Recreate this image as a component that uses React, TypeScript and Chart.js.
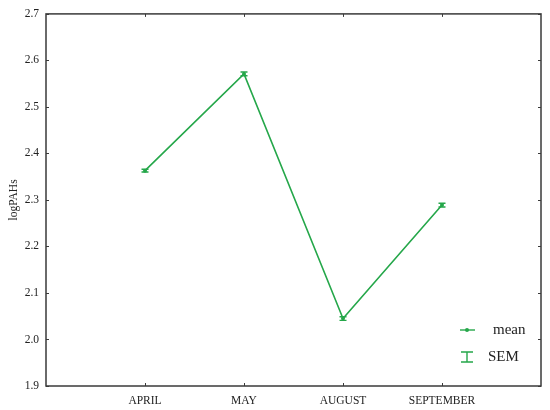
import React, { useEffect, useRef } from "react";
import { Chart, registerables } from "chart.js";

Chart.register(...registerables);

const categories = ["APRIL", "MAY", "AUGUST", "SEPTEMBER"];
const meanValues = [2.363, 2.571, 2.045, 2.289];
const semValues = [0.003, 0.004, 0.004, 0.004];
const yTickMin = 1.9;
const yTickMax = 2.7;
const yStep = 0.1;

const GREEN = "#25a74a";
const AXIS = "#3a3a3a";
const FONT = "'Liberation Serif', 'DejaVu Serif', serif";

const framePlugin = {
  id: "frame",
  afterDraw(chart: any) {
    const ctx = chart.ctx;
    const { left, right, top, bottom } = chart.chartArea;
    const xs = chart.scales.x;
    const ys = chart.scales.y;
    ctx.save();
    // error bars
    ctx.strokeStyle = GREEN;
    ctx.lineWidth = 1.4;
    meanValues.forEach((m, i) => {
      const px = xs.getPixelForValue(i + 1);
      const yHi = ys.getPixelForValue(m + semValues[i]);
      const yLo = ys.getPixelForValue(m - semValues[i]);
      ctx.beginPath();
      ctx.moveTo(px, yHi);
      ctx.lineTo(px, yLo);
      ctx.moveTo(px - 3.5, yHi);
      ctx.lineTo(px + 3.5, yHi);
      ctx.moveTo(px - 3.5, yLo);
      ctx.lineTo(px + 3.5, yLo);
      ctx.stroke();
    });
    // box
    ctx.strokeStyle = AXIS;
    ctx.lineWidth = 1.5;
    ctx.strokeRect(left, top, right - left, bottom - top);
    // inward ticks
    ctx.lineWidth = 1;
    const tl = 3;
    ctx.beginPath();
    xs.ticks.forEach((t: any) => {
      const px = Math.round(xs.getPixelForValue(t.value)) + 0.5;
      ctx.moveTo(px, bottom);
      ctx.lineTo(px, bottom - tl);
      ctx.moveTo(px, top);
      ctx.lineTo(px, top + tl);
    });
    ys.ticks.forEach((t: any) => {
      const py = Math.round(ys.getPixelForValue(t.value)) + 0.5;
      ctx.moveTo(left, py);
      ctx.lineTo(left + tl, py);
      ctx.moveTo(right, py);
      ctx.lineTo(right - tl, py);
    });
    ctx.stroke();
    // y title
    ctx.fillStyle = "#222";
    ctx.font = `11.5px ${FONT}`;
    ctx.translate(14, (top + bottom) / 2);
    ctx.rotate(-Math.PI / 2);
    ctx.textAlign = "center";
    ctx.textBaseline = "middle";
    ctx.fillText("logPAHs", 0, 0);
    ctx.setTransform(1, 0, 0, 1, 0, 0);
    // legend
    const lx = right - 74;
    const ly1 = bottom - 56;
    const ly2 = bottom - 29;
    ctx.strokeStyle = GREEN;
    ctx.fillStyle = GREEN;
    ctx.lineWidth = 1.4;
    ctx.beginPath();
    ctx.moveTo(lx - 7, ly1);
    ctx.lineTo(lx + 8, ly1);
    ctx.stroke();
    ctx.beginPath();
    ctx.arc(lx, ly1, 2, 0, Math.PI * 2);
    ctx.fill();
    ctx.beginPath();
    ctx.moveTo(lx, ly2 - 5);
    ctx.lineTo(lx, ly2 + 5);
    ctx.moveTo(lx - 6, ly2 - 5);
    ctx.lineTo(lx + 6, ly2 - 5);
    ctx.moveTo(lx - 6, ly2 + 5);
    ctx.lineTo(lx + 6, ly2 + 5);
    ctx.stroke();
    ctx.fillStyle = "#222";
    ctx.font = `15px ${FONT}`;
    ctx.textAlign = "left";
    ctx.textBaseline = "middle";
    ctx.fillText("mean", lx + 26, ly1);
    ctx.fillText("SEM", lx + 21, ly2);
    ctx.restore();
  },
};

export default function App() {
  const ref = useRef<HTMLCanvasElement>(null);
  useEffect(() => {
    if (!ref.current) return;
    const chart = new Chart(ref.current, {
      type: "line",
      data: {
        datasets: [
          {
            label: "mean",
            data: meanValues.map((v, i) => ({ x: i + 1, y: v })),
            borderColor: GREEN,
            backgroundColor: GREEN,
            borderWidth: 1.6,
            pointRadius: 2,
            pointBackgroundColor: GREEN,
            pointBorderWidth: 0,
            tension: 0,
          },
        ],
      },
      options: {
        animation: false,
        responsive: false,
        maintainAspectRatio: false,
        layout: { padding: { left: 0, right: 9, top: 12, bottom: 0 } },
        plugins: { legend: { display: false }, tooltip: { enabled: false } },
        scales: {
          x: {
            type: "linear",
            min: 0,
            max: categories.length + 1,
            afterBuildTicks: (scale: any) => {
              scale.ticks = categories.map((_, i) => ({ value: i + 1 }));
            },
            afterFit: (scale: any) => {
              scale.height = 24;
            },
            grid: { display: false, drawTicks: false },
            border: { display: false },
            ticks: {
              padding: 8,
              autoSkip: false,
              maxRotation: 0,
              color: "#222",
              font: { family: FONT, size: 11.5 },
              callback: (v: any) => categories[Number(v) - 1] ?? "",
            },
          },
          y: {
            min: yTickMin,
            max: yTickMax,
            afterFit: (scale: any) => {
              scale.width = 46;
            },
            grid: { display: false, drawTicks: false },
            border: { display: false },
            ticks: {
              stepSize: yStep,
              padding: 7,
              color: "#222",
              font: { family: FONT, size: 11.5 },
              callback: (v: any) => Number(v).toFixed(1),
            },
          },
        },
      },
      plugins: [framePlugin],
    });
    return () => chart.destroy();
  }, []);
  return (
    <div style={{ position: "fixed", left: 0, top: 0, width: 550, height: 410, background: "#fff" }}>
      <canvas ref={ref} width={550} height={410} style={{ width: 550, height: 410 }} />
    </div>
  );
}
